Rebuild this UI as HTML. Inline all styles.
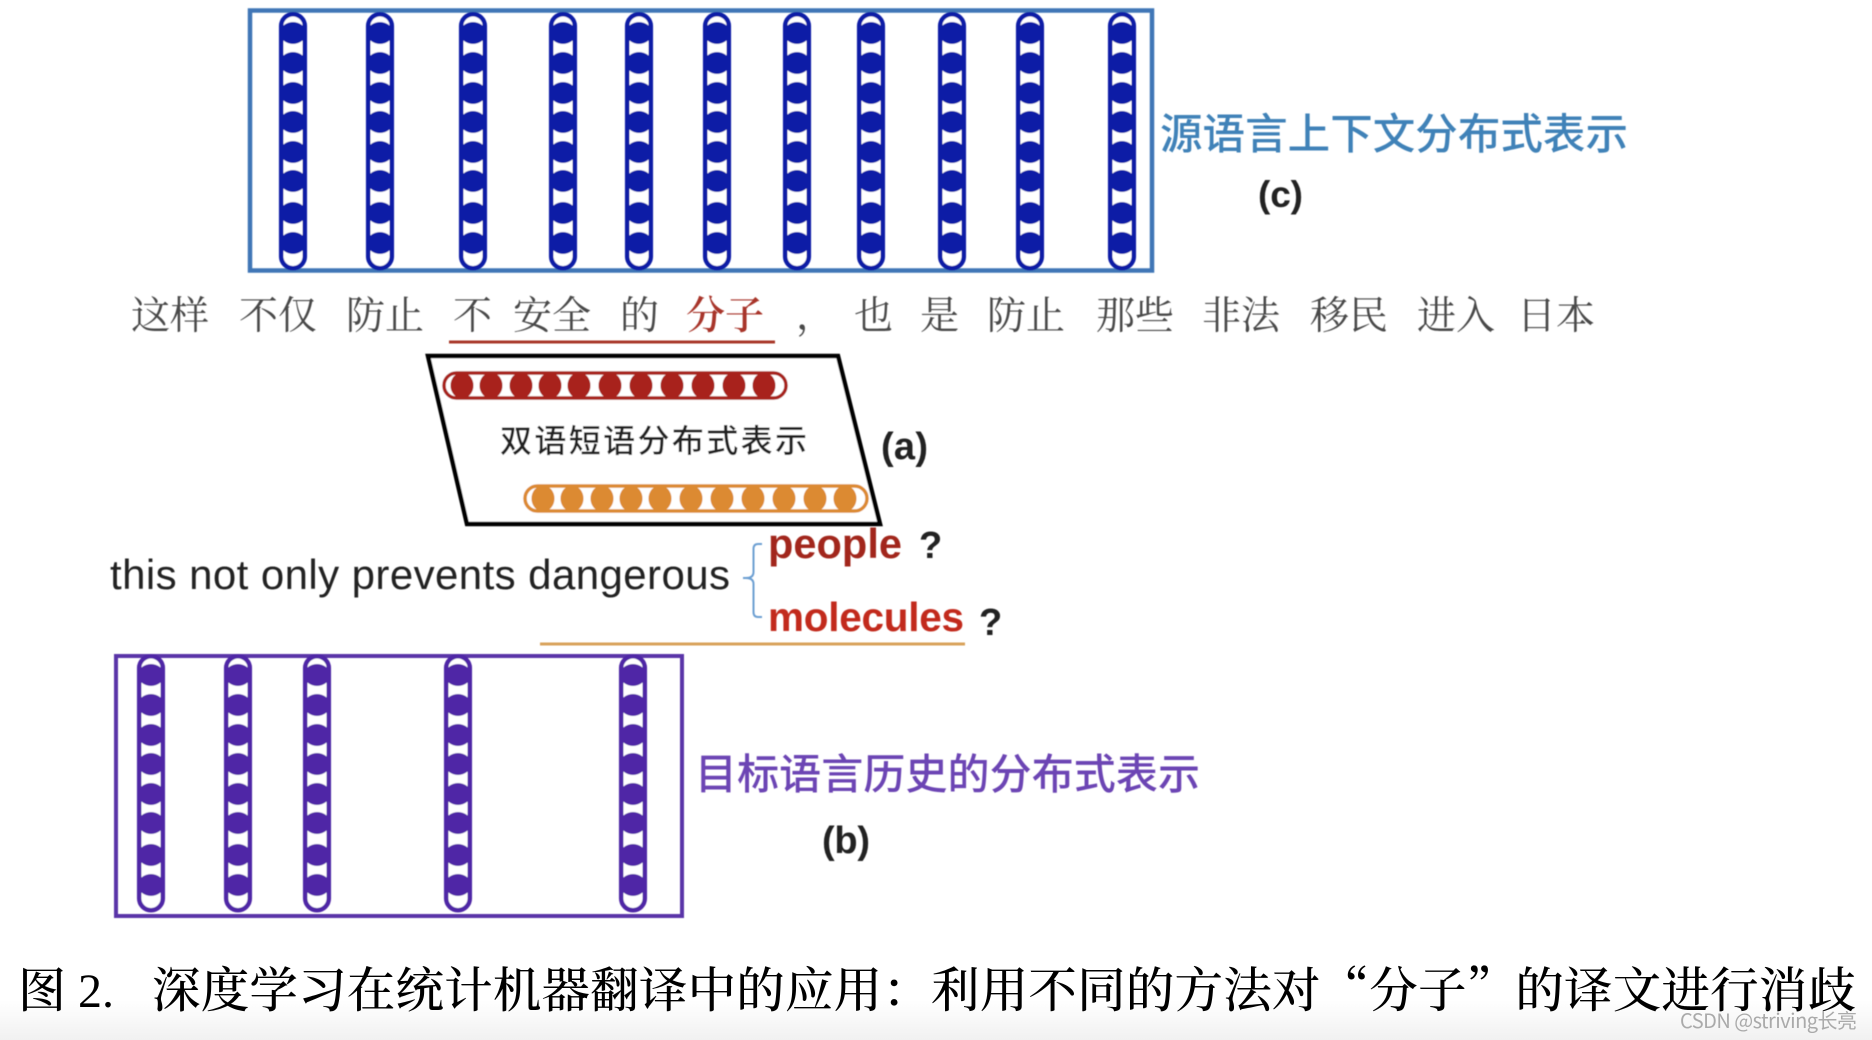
<!DOCTYPE html>
<html lang="zh-CN"><head><meta charset="utf-8"><title>Diagram</title>
<style>
html,body{margin:0;padding:0;background:#fff;width:1872px;height:1040px;overflow:hidden}
svg{display:block}
.s{font-family:"Liberation Sans","Noto Sans CJK SC",sans-serif}
.c{font-family:"Noto Sans CJK SC",sans-serif;font-weight:500}
.z{font-family:"Liberation Serif","Noto Serif CJK SC",serif}
.y{font-family:"Noto Serif CJK SC",serif;font-weight:500}
.r text{font-size:39px;fill:#484848}
</style></head><body>
<svg width="1872" height="1040" viewBox="0 0 1872 1040" xmlns="http://www.w3.org/2000/svg">
<defs>
<linearGradient id="gr" x1="0" y1="0" x2="0" y2="1"><stop offset="0" stop-color="#fff"/><stop offset="1" stop-color="#f1f1f1"/></linearGradient>
<filter id="b"><feGaussianBlur stdDeviation="0.6"/></filter>
<g id="v">
<rect x="-11.8" y="14.2" width="23.6" height="254" rx="11.8" fill="#fff" stroke="currentColor" stroke-width="4.5"/>
<g fill="currentColor">
<ellipse cx="0" cy="33" rx="13" ry="11"/><ellipse cx="0" cy="63" rx="13" ry="11"/><ellipse cx="0" cy="93" rx="13" ry="11"/><ellipse cx="0" cy="122" rx="13" ry="11"/><ellipse cx="0" cy="152" rx="13" ry="11"/><ellipse cx="0" cy="181" rx="13" ry="11"/><ellipse cx="0" cy="213" rx="13" ry="11"/><ellipse cx="0" cy="243" rx="13" ry="11"/>
</g></g>
<g id="h">
<rect x="2" y="2" width="342" height="25" rx="12.5" fill="#fff" stroke="currentColor" stroke-width="3.5"/>
<g fill="currentColor">
<ellipse cx="20" cy="14.5" rx="11.5" ry="13"/><ellipse cx="49" cy="14.5" rx="11.5" ry="13"/><ellipse cx="79" cy="14.5" rx="11.5" ry="13"/><ellipse cx="108" cy="14.5" rx="11.5" ry="13"/><ellipse cx="137" cy="14.5" rx="11.5" ry="13"/><ellipse cx="168" cy="14.5" rx="11.5" ry="13"/><ellipse cx="199" cy="14.5" rx="11.5" ry="13"/><ellipse cx="230" cy="14.5" rx="11.5" ry="13"/><ellipse cx="261" cy="14.5" rx="11.5" ry="13"/><ellipse cx="292" cy="14.5" rx="11.5" ry="13"/><ellipse cx="322" cy="14.5" rx="11.5" ry="13"/>
</g></g>
</defs>
<rect x="0" y="1000" width="1872" height="40" fill="url(#gr)"/>

<g filter="url(#b)">
<rect x="250" y="10.5" width="902" height="260" fill="none" stroke="#3f76b6" stroke-width="4.5"/>
<g style="color:#0c1fa6">
<use href="#v" transform="translate(293,0)"/><use href="#v" transform="translate(380,0)"/><use href="#v" transform="translate(473,0)"/><use href="#v" transform="translate(563,0)"/><use href="#v" transform="translate(639,0)"/><use href="#v" transform="translate(717,0)"/><use href="#v" transform="translate(797,0)"/><use href="#v" transform="translate(871,0)"/><use href="#v" transform="translate(952,0)"/><use href="#v" transform="translate(1030,0)"/><use href="#v" transform="translate(1122,0)"/>
</g>
<text class="c" x="1160" y="149" font-size="42.5" fill="#3f82b8" textLength="468">源语言上下文分布式表示</text>
<text class="s" x="1258" y="207" font-size="37" font-weight="bold" fill="#222" textLength="45">(c)</text>

<g class="r z">
<text x="131" y="329">这样</text><text x="239" y="329">不仅</text><text x="346" y="329">防止</text><text x="453" y="329">不</text><text x="513" y="329">安全</text><text x="620" y="329">的</text><text x="686" y="329" style="fill:#a8362a;font-weight:600">分子</text><text x="796" y="329">，</text><text x="854" y="329">也</text><text x="920" y="329">是</text><text x="987" y="329">防止</text><text x="1096" y="329">那些</text><text x="1202" y="329">非法</text><text x="1310" y="329">移民</text><text x="1417" y="329">进入</text><text x="1517" y="329">日本</text>
</g>
<line x1="449" y1="342" x2="775" y2="342" stroke="#a8382c" stroke-width="3"/>

<polygon points="428,356 838,356 880,524 467,524" fill="#fff" stroke="#000" stroke-width="4.5"/>
<use href="#h" transform="translate(442,371)" style="color:#a8241a"/>
<use href="#h" transform="translate(523,484)" style="color:#dc8a30"/>
<text class="c" x="500" y="452" font-size="32" fill="#222" textLength="307">双语短语分布式表示</text>
<text class="s" x="881" y="459" font-size="38" font-weight="bold" fill="#222" textLength="47">(a)</text>

<text class="s" x="110" y="589" font-size="42" fill="#222" textLength="620">this not only prevents dangerous</text>
<path d="M762 544H758Q753.500 544 753.500 549V572Q753.500 578 746 578H743M746 578Q753.500 578 753.500 584V612Q753.500 617 758 617H762" fill="none" stroke="#6c9fd2" stroke-width="2"/>
<text class="s" x="768" y="558" font-size="41.500" font-weight="bold" fill="#a2281e" textLength="134">people</text>
<text class="s" x="919" y="558" font-size="38" font-weight="bold" fill="#222">?</text>
<text class="s" x="768" y="631" font-size="40.500" font-weight="bold" fill="#c22a1e" textLength="196">molecules</text>
<text class="s" x="979" y="635" font-size="38" font-weight="bold" fill="#222">?</text>
<line x1="540" y1="644" x2="965" y2="644" stroke="#d8a25a" stroke-width="3"/>

<rect x="116" y="656" width="566" height="260" fill="none" stroke="#5a36a8" stroke-width="4"/>
<g style="color:#4f28a6">
<use href="#v" transform="translate(151,642)"/><use href="#v" transform="translate(238,642)"/><use href="#v" transform="translate(317,642)"/><use href="#v" transform="translate(458,642)"/><use href="#v" transform="translate(633,642)"/>
</g>
<text class="c" x="695" y="789" font-size="42" fill="#6c45b4" textLength="505">目标语言历史的分布式表示</text>
<text class="s" x="822" y="853" font-size="38" font-weight="bold" fill="#222" textLength="48">(b)</text>
</g>

<text class="y" x="18" y="1007" font-size="48" fill="#000">图</text>
<text class="z" x="78" y="1007" font-size="48" fill="#000">2.</text>
<text class="y" x="152" y="1007" font-size="48.500" fill="#000" textLength="1704">深度学习在统计机器翻译中的应用：利用不同的方法对“分子”的译文进行消歧</text>
<text x="1680" y="1028" font-size="20" fill="#aaa" textLength="177" style="font-family:'Noto Sans CJK SC',sans-serif">CSDN @striving长亮</text>
</svg>
</body></html>
